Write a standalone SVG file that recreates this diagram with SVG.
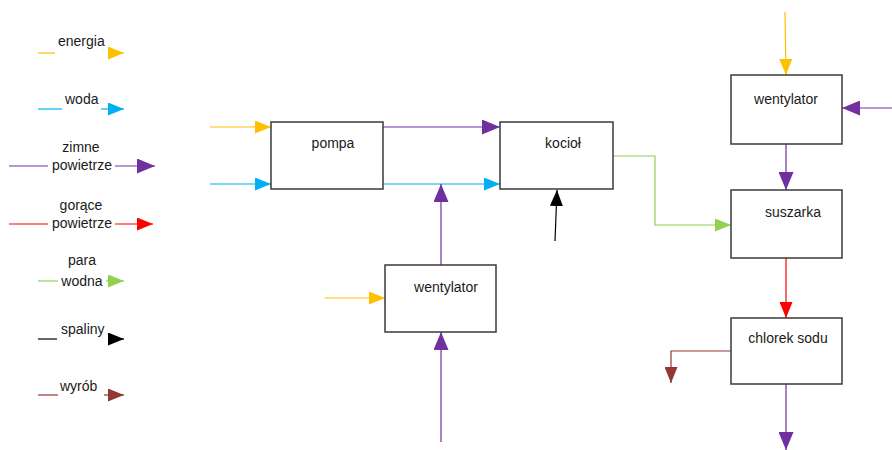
<svg xmlns="http://www.w3.org/2000/svg" width="892" height="450" viewBox="0 0 892 450">
<style>
text{font-family:"Liberation Sans","Open Sans",sans-serif;font-size:14px;fill:#1a1a1a}
.box{fill:#fff;stroke:#3a3a3a;stroke-width:1.5}
.c{fill:none;stroke-width:1.2}
.y{stroke:#FFC000}.b{stroke:#00B0F0}.p{stroke:#7030A0}.r{stroke:#FF0000}.g{stroke:#92D050}.k{stroke:#000}.w{stroke:#943634}
.tm{text-anchor:middle}
</style>
<defs>
<marker id="my" markerUnits="userSpaceOnUse" markerWidth="17" markerHeight="13" refX="16" refY="6.5" orient="auto"><path d="M0,0L16,6.5L0,13z" fill="#FFC000"/></marker>
<marker id="mb" markerUnits="userSpaceOnUse" markerWidth="17" markerHeight="13" refX="16" refY="6.5" orient="auto"><path d="M0,0L16,6.5L0,13z" fill="#00B0F0"/></marker>
<marker id="mp" markerUnits="userSpaceOnUse" markerWidth="19" markerHeight="15" refX="18" refY="7.5" orient="auto"><path d="M0,0L18,7.5L0,15z" fill="#7030A0"/></marker>
<marker id="mr" markerUnits="userSpaceOnUse" markerWidth="17" markerHeight="13" refX="16" refY="6.5" orient="auto"><path d="M0,0L16,6.5L0,13z" fill="#FF0000"/></marker>
<marker id="mg" markerUnits="userSpaceOnUse" markerWidth="17" markerHeight="13" refX="16" refY="6.5" orient="auto"><path d="M0,0L16,6.5L0,13z" fill="#92D050"/></marker>
<marker id="mk" markerUnits="userSpaceOnUse" markerWidth="17" markerHeight="13" refX="16" refY="6.5" orient="auto"><path d="M0,0L16,6.5L0,13z" fill="#000"/></marker>
<marker id="mw" markerUnits="userSpaceOnUse" markerWidth="17" markerHeight="13" refX="16" refY="6.5" orient="auto"><path d="M0,0L16,6.5L0,13z" fill="#943634"/></marker>
</defs>

<g id="legend">
<line class="c y" x1="38" y1="53" x2="55" y2="53"/><line class="c y" x1="108" y1="53" x2="124" y2="53" marker-end="url(#my)"/>
<text x="58" y="46">energia</text>
<line class="c b" x1="38" y1="109" x2="62" y2="109"/><line class="c b" x1="101" y1="109" x2="124" y2="109" marker-end="url(#mb)"/>
<text x="65" y="104">woda</text>
<line class="c p" x1="9" y1="166" x2="48" y2="166"/><line class="c p" x1="115" y1="166" x2="155" y2="166" marker-end="url(#mp)"/>
<text x="81" y="152" class="tm">zimne</text><text x="82" y="170" class="tm">powietrze</text>
<line class="c r" x1="9" y1="224" x2="48" y2="224"/><line class="c r" x1="115" y1="224" x2="153" y2="224" marker-end="url(#mr)"/>
<text x="81" y="210" class="tm">gorące</text><text x="82" y="228" class="tm">powietrze</text>
<line class="c g" x1="38" y1="281" x2="58" y2="281"/><line class="c g" x1="106" y1="281" x2="124" y2="281" marker-end="url(#mg)"/>
<text x="82" y="265" class="tm">para</text><text x="82" y="286" class="tm">wodna</text>
<line class="c k" x1="38" y1="339" x2="57" y2="339"/><line class="c k" x1="108" y1="339" x2="124" y2="339" marker-end="url(#mk)"/>
<text x="61" y="334">spaliny</text>
<line class="c w" x1="38" y1="395" x2="58" y2="395"/><line class="c w" x1="104" y1="395" x2="124" y2="395" marker-end="url(#mw)"/>
<text x="60" y="391">wyrób</text>
</g>

<g id="connectors">
<line class="c y" x1="210" y1="127" x2="271" y2="127" marker-end="url(#my)"/>
<line class="c b" x1="210" y1="184" x2="271" y2="184" marker-end="url(#mb)"/>
<line class="c p" x1="383" y1="127" x2="500" y2="127" marker-end="url(#mp)"/>
<line class="c b" x1="383" y1="184" x2="500" y2="184" marker-end="url(#mb)"/>
<line class="c p" x1="441" y1="265" x2="441" y2="184" marker-end="url(#mp)"/>
<line class="c k" x1="555" y1="241" x2="557" y2="190" marker-end="url(#mk)"/>
<polyline class="c g" points="613,156 655,156 655,225 731,225" marker-end="url(#mg)"/>
<line class="c y" x1="325" y1="298" x2="385" y2="298" marker-end="url(#my)"/>
<line class="c p" x1="441" y1="442" x2="441" y2="332" marker-end="url(#mp)"/>
<line class="c y" x1="785" y1="12" x2="786" y2="75" marker-end="url(#my)"/>
<line class="c p" x1="892" y1="108" x2="842" y2="108" marker-end="url(#mp)"/>
<line class="c p" x1="786" y1="144" x2="786" y2="190" marker-end="url(#mp)"/>
<line class="c r" x1="786" y1="258" x2="786" y2="318" marker-end="url(#mr)"/>
<polyline class="c w" points="731,351 671,351 671,383" marker-end="url(#mw)"/>
<line class="c p" x1="786" y1="384" x2="786" y2="450" marker-end="url(#mp)"/>
</g>

<g id="pompa"><rect class="box" x="271" y="122" width="112" height="67"/><text x="333" y="148" class="tm">pompa</text></g>
<g id="kociol"><rect class="box" x="500" y="122" width="113" height="67"/><text x="563" y="148" class="tm">kocioł</text></g>
<g id="wentylator1"><rect class="box" x="385" y="265" width="111" height="67"/><text x="446" y="292" class="tm">wentylator</text></g>
<g id="wentylator2"><rect class="box" x="731" y="75" width="111" height="69"/><text x="786" y="104" class="tm">wentylator</text></g>
<g id="suszarka"><rect class="box" x="731" y="190" width="111" height="68"/><text x="793" y="217" class="tm">suszarka</text></g>
<g id="chlorek"><rect class="box" x="731" y="318" width="111" height="66"/><text x="788" y="343" class="tm">chlorek sodu</text></g>
</svg>
